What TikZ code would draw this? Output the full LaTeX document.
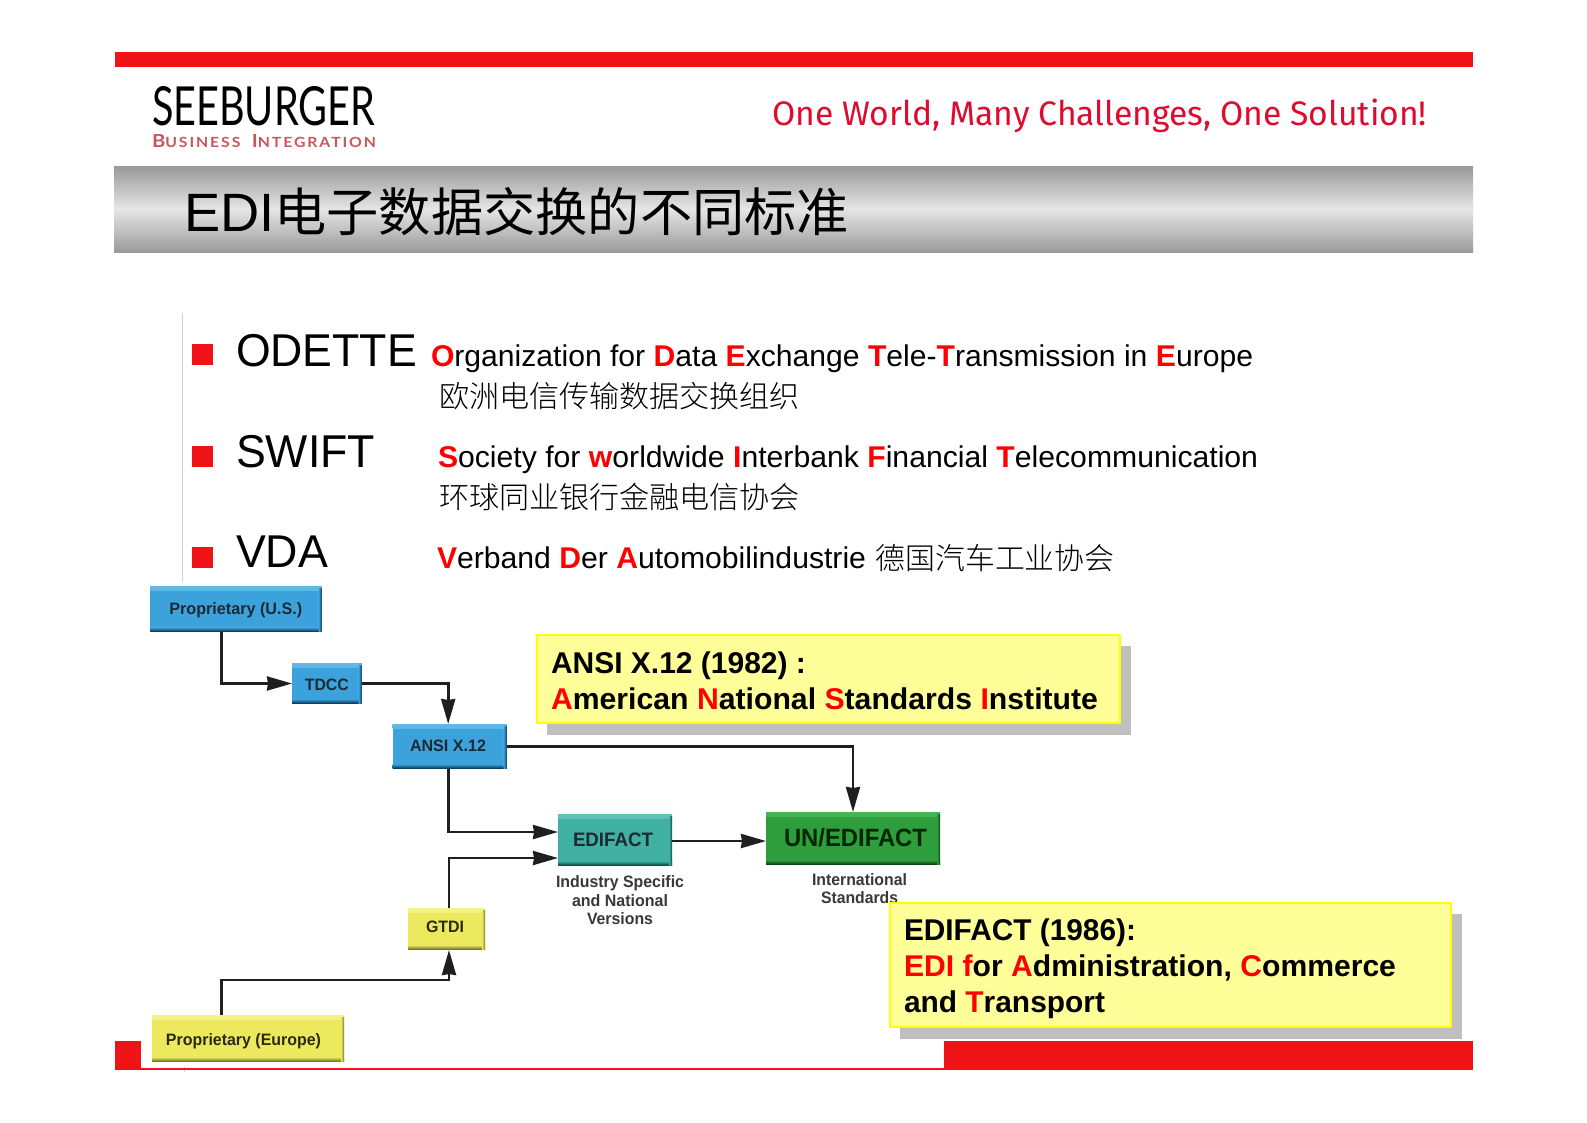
\documentclass[tikz,border=0pt]{standalone}
\usepackage{fontspec}
\usetikzlibrary{arrows.meta}
\setmainfont{Liberation Sans}
\newfontfamily\cjk{Noto Sans CJK SC}
\newfontfamily\cjklight{Noto Sans CJK SC Light}
\newfontfamily\logofont{Lato}
\newfontfamily\logosub[LetterSpace=12]{Lato}
\newfontfamily\tagfont{Fira Sans}
\definecolor{barred}{HTML}{EF1217}
\definecolor{txtred}{HTML}{FF0000}
\definecolor{tagred}{HTML}{DF0A2E}
\definecolor{logored}{HTML}{C8565C}
\definecolor{shadowgray}{HTML}{BFBFBF}
\definecolor{calloutfill}{HTML}{FFFF99}
\definecolor{calloutline}{HTML}{FFFF00}
\definecolor{boxtext}{HTML}{1C2A36}
\definecolor{ylwtext}{HTML}{2A2A10}
\definecolor{bluebase}{HTML}{3BA2DC}\definecolor{bluedark}{HTML}{0C3F62}\definecolor{bluelight}{HTML}{62B8E6}
\definecolor{ylwbase}{HTML}{EDE95E}\definecolor{ylwdark}{HTML}{7E7A24}\definecolor{ylwlight}{HTML}{F5F287}
\definecolor{tealbase}{HTML}{40B0A2}\definecolor{tealdark}{HTML}{0C5048}\definecolor{teallight}{HTML}{62C4B8}
\definecolor{grnbase}{HTML}{2E9E3C}\definecolor{grndark}{HTML}{0E4416}\definecolor{grnlight}{HTML}{48B455}
\newcommand{\fitw}[2]{\resizebox{#1}{\height}{#2}}
\newcommand{\fsz}[1]{\fontsize{#1}{#1}\selectfont}
\newcommand{\rd}[1]{\textcolor{txtred}{\textbf{#1}}}
\newcommand{\boxlab}[3]{\raisebox{#2}[0pt][0pt]{\makebox[0pt][c]{\hspace*{#1}\hspace*{#1}#3}}}
\tikzset{
  txt/.style={anchor=base west,inner sep=0pt,outer sep=0pt},
  ctr/.style={anchor=base,inner sep=0pt,outer sep=0pt},
  bevel/.style n args={3}{fill=#1,draw=none,inner sep=0pt,outer sep=0pt,
    path picture={
      \shade[top color=#3,bottom color=#1] (path picture bounding box.north west) rectangle ([yshift=-4pt]path picture bounding box.north east);
      \shade[top color=#1,bottom color=#2] ([yshift=5pt]path picture bounding box.south west) rectangle ([yshift=1pt]path picture bounding box.south east);
      \fill[#2] (path picture bounding box.south west) rectangle ([yshift=1pt]path picture bounding box.south east);
      \shade[left color=#1,right color=#2] ([xshift=-3pt,yshift=-2pt]path picture bounding box.north east) rectangle ([yshift=1pt]path picture bounding box.south east);
    }},
  bluebox/.style={bevel={bluebase}{bluedark}{bluelight},text=boxtext},
  yellowbox/.style={bevel={ylwbase}{ylwdark}{ylwlight},text=ylwtext},
  tealbox/.style={bevel={tealbase}{tealdark}{teallight},text=boxtext},
  greenbox/.style={bevel={grnbase}{grndark}{grnlight},text=black!85!green},
  conn/.style={draw=black!88,line width=2.7pt,line join=miter,-{Stealth[length=25pt,width=14pt,inset=1pt]}},
  callout/.style={fill=calloutfill,draw=calloutline,line width=2pt},
  bullet/.style={fill=barred,draw=none},
  sub/.style={ctr,font=\bfseries\fsz{16.5},text=black!78},
}
\begin{document}
\begin{tikzpicture}[x=1pt,y=-1pt]
\useasboundingbox (0,0) rectangle (1587,1122);
\fill[white] (0,0) rectangle (1587,1122);
% header
\fill[barred] (115,52) rectangle (1473,67);
\shade[top color=black!40,bottom color=black!40,middle color=black!10] (114,166) rectangle (1473,252.5);
\node[txt] (logo) at (152,125) {\resizebox{223pt}{39pt}{\logofont SEEBURGER}};
\node[txt,text=logored] (logosub) at (152,147) {\fitw{224pt}{\logosub\bfseries\fsz{18}B\fsz{14}USINESS\ \ \fsz{18}I\fsz{14}NTEGRATION}};
\node[txt,text=tagred] (tag) at (772,125) {\fitw{655pt}{\tagfont\fsz{34}One World, Many Challenges, One Solution!}};
\node[txt] (title) at (184,231) {\fitw{665pt}{\fsz{54}EDI{\cjk\fsz{52}电子数据交换的不同标准}}};
% list
\draw[black!18,line width=1pt] (182.5,313) -- (182.5,582);
\draw[black!18,line width=1pt] (184,1067) -- (184,1072);
\fill[bullet] (191.5,344) rectangle (212.5,365);
\fill[bullet] (191.5,446) rectangle (212.5,466.5);
\fill[bullet] (191.5,547) rectangle (212.5,567.5);
\node[txt] (odette) at (236,366) {\fitw{181pt}{\fsz{46}ODETTE}};
\node[txt] (swift) at (236,467) {\fitw{139pt}{\fsz{46}SWIFT}};
\node[txt] (vda) at (236,567) {\fitw{92pt}{\fsz{46}VDA}};
\node[txt] (odef) at (431,366) {\fitw{822pt}{\fsz{30}\rd{O}rganization for \rd{D}ata \rd{E}xchange \rd{T}ele-\rd{T}ransmission in \rd{E}urope}};
\node[txt] (ocn) at (439,407) {\fitw{361pt}{\cjklight\fsz{30}欧洲电信传输数据交换组织}};
\node[txt] (sdef) at (438,467) {\fitw{820pt}{\fsz{30}\rd{S}ociety for \rd{w}orldwide \rd{I}nterbank \rd{F}inancial \rd{T}elecommunication}};
\node[txt] (scn) at (439,508) {\fitw{361pt}{\cjklight\fsz{30}环球同业银行金融电信协会}};
\node[txt] (vdef) at (437,568) {\fitw{429pt}{\fsz{30}\rd{V}erband \rd{D}er \rd{A}utomobilindustrie}};
\node[txt] (vcn) at (875.5,569) {\fitw{239pt}{\cjklight\fsz{30}德国汽车工业协会}};
% bottom bars
\fill[barred] (115,1041) rectangle (141,1070);
\fill[barred] (141,1067.5) rectangle (944,1070);
\fill[barred] (944,1041) rectangle (1473,1070);
% flow boxes
\node[bluebox,minimum width=171.7pt,minimum height=46.3pt] (pus) at (235.85,609.15) {\boxlab{0pt}{-5.2pt}{\fitw{133pt}{\bfseries\fsz{16.5}Proprietary (U.S.)}}};
\node[bluebox,minimum width=69.7pt,minimum height=41pt] (tdcc) at (326.85,683.5) {\boxlab{0pt}{-6.5pt}{\fitw{44pt}{\bfseries\fsz{16.5}TDCC}}};
\node[bluebox,minimum width=114pt,minimum height=45pt] (ansi) at (449.7,746.5) {\boxlab{-1.7pt}{-5.2pt}{\fitw{76pt}{\bfseries\fsz{16.5}ANSI X.12}}};
\node[tealbox,minimum width=114pt,minimum height=52pt] (edi) at (615,840) {\boxlab{-2pt}{-6.7pt}{\fitw{80pt}{\bfseries\fsz{19.5}EDIFACT}}};
\node[greenbox,minimum width=174pt,minimum height=53pt] (un) at (853,838.5) {\boxlab{2.5pt}{-7.5pt}{\fitw{143pt}{\bfseries\fsz{25}UN/EDIFACT}}};
\node[yellowbox,minimum width=77pt,minimum height=42pt] (gtdi) at (446.5,929) {\boxlab{-1.5pt}{-3.7pt}{\fitw{38pt}{\bfseries\fsz{16.5}GTDI}}};
\node[yellowbox,minimum width=192pt,minimum height=47pt] (peu) at (248,1038.5) {\boxlab{-4.5pt}{-6.5pt}{\fitw{155pt}{\bfseries\fsz{16.5}Proprietary (Europe)}}};
\node[sub] (s1) at (620,887) {\fitw{128pt}{Industry Specific}};
\node[sub] (s2) at (620,906) {\fitw{96pt}{and National}};
\node[sub] (s3) at (620,924) {\fitw{66pt}{Versions}};
\node[sub] (i1) at (859.5,885) {\fitw{95pt}{International}};
\node[sub] (i2) at (859.5,903) {\fitw{77pt}{Standards}};
% connectors
\draw[conn] ([xshift=-14.1pt]pus.south) |- (tdcc.west);
\draw[conn] (tdcc.east) -| ([xshift=-1.5pt]ansi.north);
\draw[conn] (ansi.east) -| (un.north);
\draw[conn] ([xshift=-1pt]ansi.south) |- ([yshift=8pt]edi.west);
\draw[conn] ([xshift=2.5pt]gtdi.north) |- ([yshift=-18pt]edi.west);
\draw[conn] ([xshift=-26.3pt]peu.north) -- ++(0,-35) -| ([xshift=2.5pt]gtdi.south);
\draw[conn] (edi.east |- 0,841) -- (un.west |- 0,841);
% callouts
\fill[shadowgray] (547,646) rectangle (1130.7,734.7);
\path[callout] (536.6,635) rectangle (1120,723);
\node[txt] (c1a) at (551,673) {\fitw{255pt}{\bfseries\fsz{30}ANSI X.12 (1982) :}};
\node[txt] (c1b) at (551,709) {\fitw{547pt}{\bfseries\fsz{30}\rd{A}merican \rd{N}ational \rd{S}tandards \rd{I}nstitute}};
\fill[shadowgray] (900,914) rectangle (1461.8,1038.7);
\path[callout] (889.7,902.7) rectangle (1450.5,1026.7);
\node[txt] (c2a) at (904,940) {\fitw{232pt}{\bfseries\fsz{30}EDIFACT (1986):}};
\node[txt] (c2b) at (904,976) {\fitw{492pt}{\bfseries\fsz{30}\rd{EDI f}or \rd{A}dministration, \rd{C}ommerce}};
\node[txt] (c2c) at (904,1012.5) {\fitw{201pt}{\bfseries\fsz{30}and \rd{T}ransport}};
\end{tikzpicture}
\end{document}
